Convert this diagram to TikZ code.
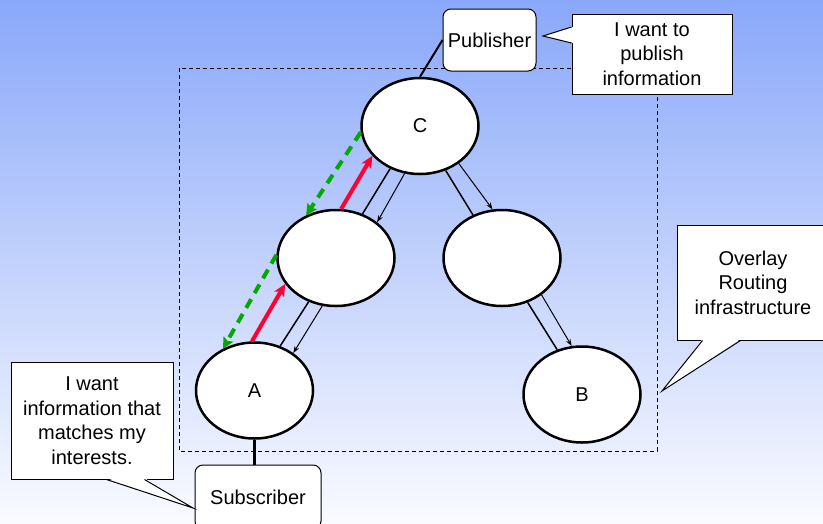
\documentclass[tikz,border=0pt]{standalone}
\usepackage{fontspec}
\setmainfont{Liberation Sans}
\usetikzlibrary{shapes.geometric,arrows.meta,calc,backgrounds}

\definecolor{skytop}{RGB}{138,168,250}
\definecolor{skybottom}{RGB}{250,251,255}
\definecolor{subred}{RGB}{255,0,51}
\definecolor{pubgreen}{RGB}{0,170,0}

\begin{document}
\begin{tikzpicture}[x=1pt, y=-1pt,
    every node/.style={font=\fontsize{20}{24.5}\selectfont, align=center},
    router/.style={ellipse, draw, fill=white, line width=2.5pt, minimum width=117pt, minimum height=96pt, inner sep=0pt},
    endpoint/.style={draw, fill=white, line width=1pt, rounded corners=8pt, inner sep=0pt},
    bubble/.style={draw, fill=white, line width=1pt, inner sep=0pt},
    link/.style={line width=1.5pt},
    flow/.style={line width=1pt, -{Stealth[length=7pt,width=5pt]}},
    subscribe/.style={line width=4pt, subred, -{Stealth[length=12pt,width=11pt,inset=3pt]}},
    notify/.style={line width=4pt, pubgreen, dash pattern=on 10pt off 7pt, -{Stealth[length=11pt,width=11pt,inset=2pt]}},
    background rectangle/.style={top color=skytop, bottom color=skybottom, draw=none},
    show background rectangle, inner frame sep=0pt]

\useasboundingbox (0,0) rectangle (823,523);

% overlay area ---
\draw[line width=1pt, dash pattern=on 4pt off 3pt] (179,68) rectangle (657,451);

% routers ---
\node[router] (C) at (420,126) {C};
\node[router] (L) at (336,258) {};
\node[router] (R) at (502,258) {};
\node[router] (A) at (254.5,390.5) {A};
\node[router] (B) at (582,394.5) {B};

% tree links (line + event flow)
\draw[link] (C.235) -- (L.59);
\draw[flow] (C.252) -- (L.41);
\draw[link] (L.238) -- (A.60);
\draw[flow] (L.254) -- (A.44);
\draw[link] (C.300) -- (R.124);
\draw[flow] (C.316) -- (R.101);
\draw[link] (R.300) -- (B.119);
\draw[flow] (R.317) -- (B.102);

% subscription up, delivery down
\draw[subscribe] (A.93) -- (L.207);
\draw[subscribe] (L.84) -- (C.212);
\draw[notify] (C.186) -- (L.125);
\draw[notify] (L.177) -- (A.127);

% end points ---
\node[endpoint, minimum width=93pt, minimum height=62pt] (pub) at (489.5,40) {Publisher};
\node[endpoint, minimum width=126pt, minimum height=64pt] (sub) at (258,497) {Subscriber};
\draw[line width=2pt] (pub.west) -- (C.north);
\draw[line width=2.5pt] (A.south) -- (A.south |- sub.north);

% speech bubbles ---
\node[bubble, minimum width=160pt, minimum height=80pt] (saypub) at (652,54) {I want to\\publish\\information};
\node[bubble, minimum width=152pt, minimum height=115pt] (sayovl) at (753,282.5) {Overlay\\Routing\\infrastructure};
\node[bubble, minimum width=162pt, minimum height=117pt] (saysub) at (92,420.5) {I want\\information that\\matches my\\interests.};

\coordinate (pubtip) at (543,36);
\coordinate (ovltip) at (662,391);
\coordinate (subtip) at (193,508);

\fill[white] ($(saypub.west)+(1.5,-27)$) -- (pubtip) -- ($(saypub.west)+(1.5,-11)$) -- cycle;
\draw[line width=1pt] ($(saypub.west)+(0,-27)$) -- (pubtip) -- ($(saypub.west)+(0,-11)$);
\fill[white] ($(sayovl.south west)+(26,-1.5)$) -- (ovltip) -- ($(sayovl.south west)+(64,-1.5)$) -- cycle;
\draw[line width=1pt] ($(sayovl.south west)+(26,0)$) -- (ovltip) -- ($(sayovl.south west)+(64,0)$);
\fill[white] ($(saysub.south west)+(96,-1.5)$) -- (subtip) -- ($(saysub.south west)+(134,-1.5)$) -- cycle;
\draw[line width=1pt] ($(saysub.south west)+(96,0)$) -- (subtip) -- ($(saysub.south west)+(134,0)$);

\end{tikzpicture}
\end{document}
